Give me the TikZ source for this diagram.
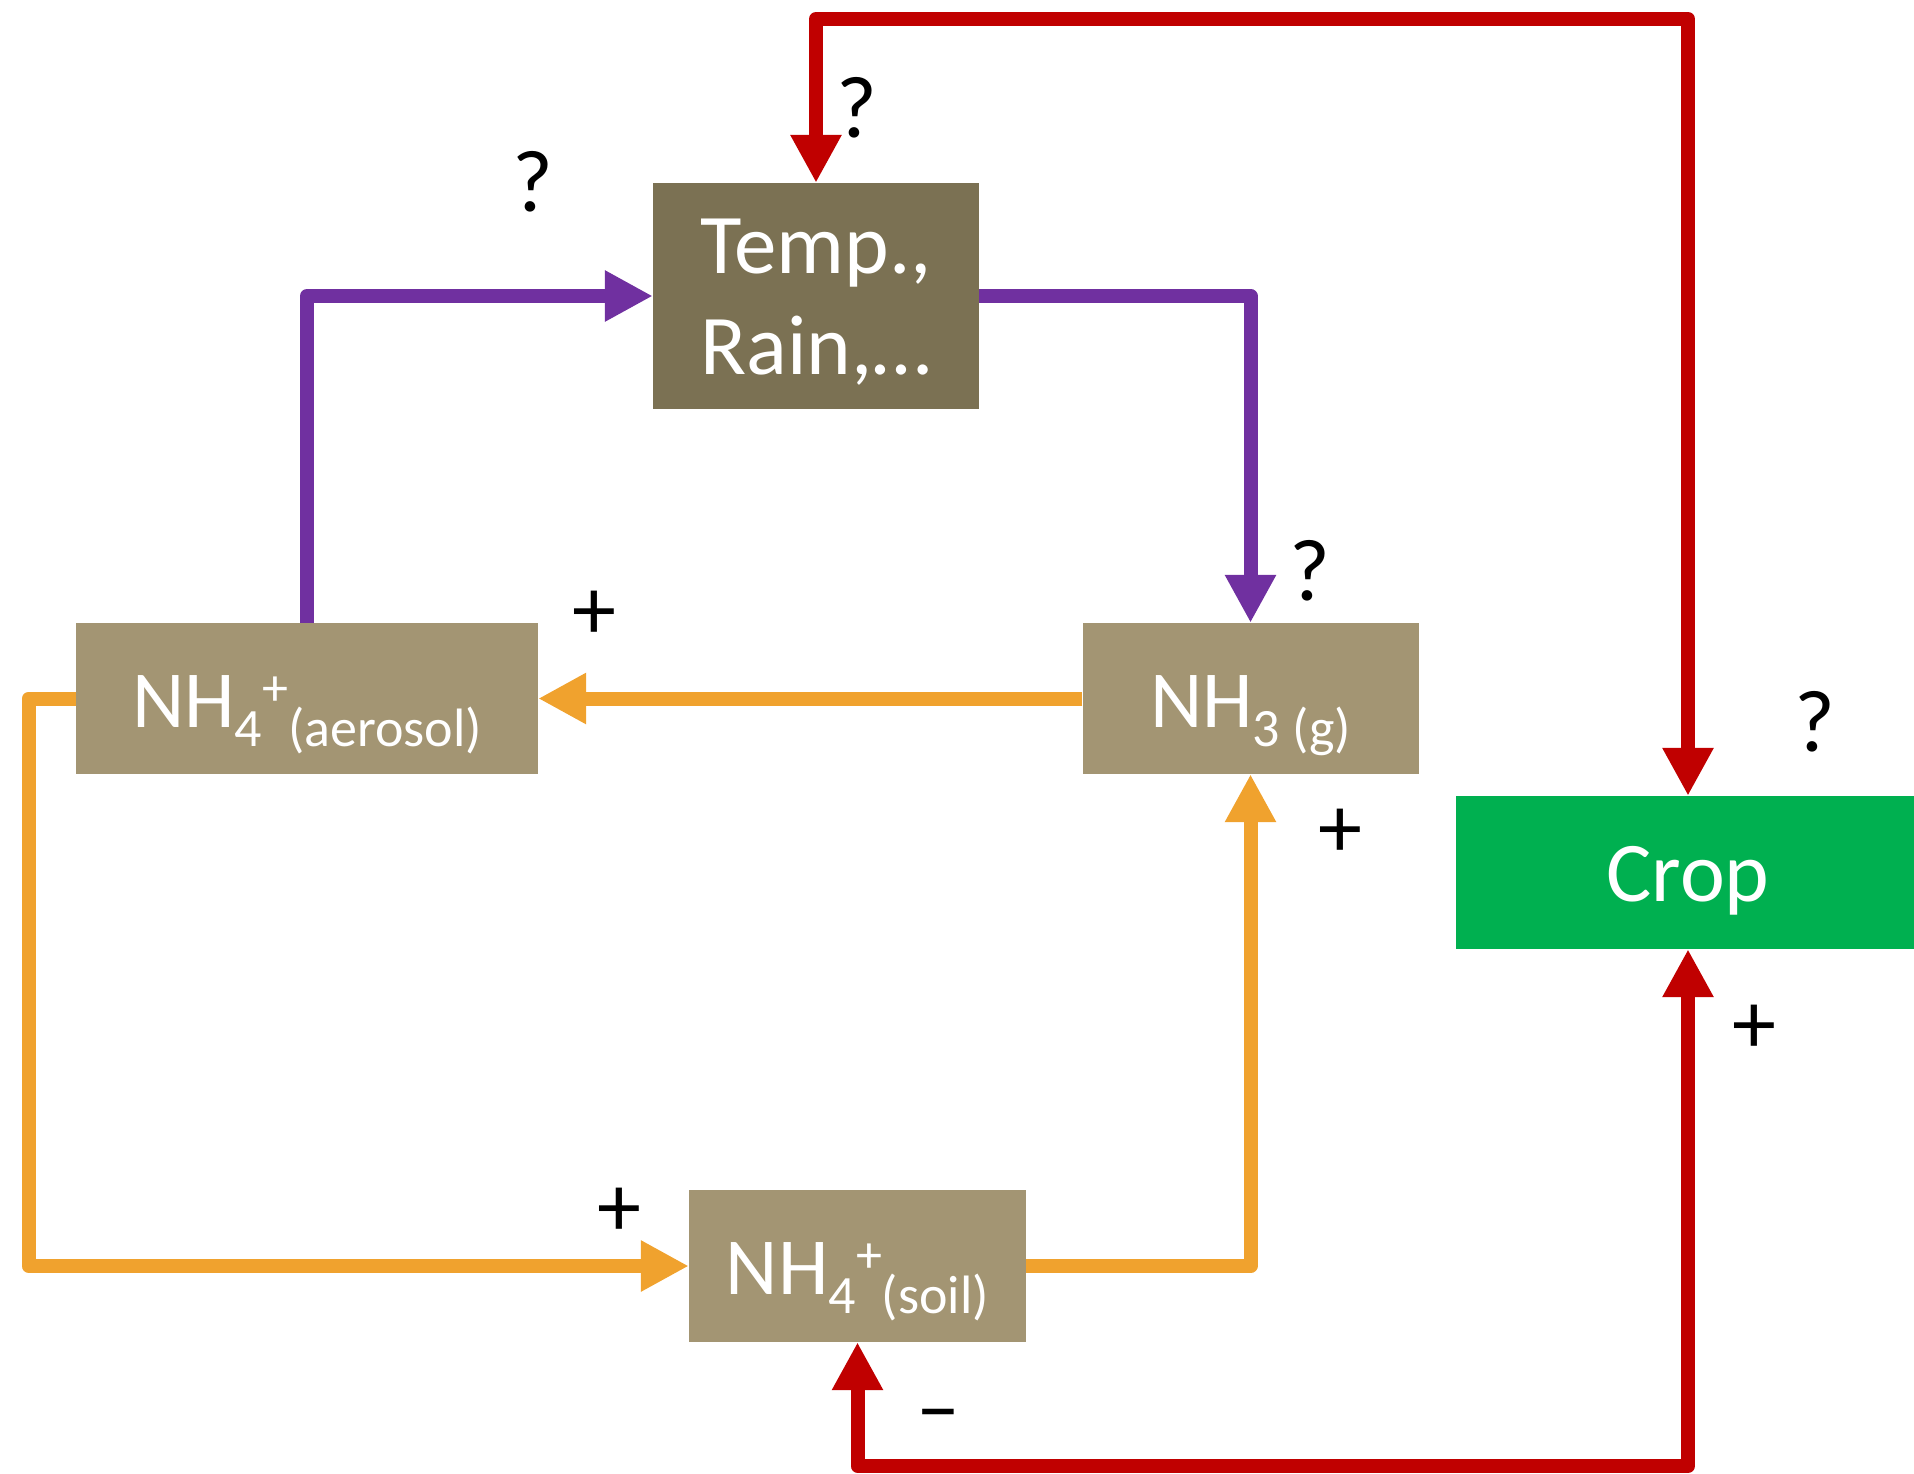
\documentclass[tikz,border=0pt]{standalone}
\usepackage{fontspec}
\setmainfont{Carlito}
\usetikzlibrary{arrows.meta}
\definecolor{tempc}{HTML}{7B7153}
\definecolor{boxc}{HTML}{A39573}
\definecolor{cropc}{HTML}{00B050}
\definecolor{redc}{HTML}{C00000}
\definecolor{orangec}{HTML}{F0A22E}
\definecolor{purplec}{HTML}{7030A0}
\newcommand\mysub[1]{\raisebox{-19pt}{\fontsize{54}{54}\selectfont #1}}
\newcommand\mysup[1]{\raisebox{22pt}{\fontsize{52}{52}\selectfont #1}}
\begin{document}
\begin{tikzpicture}[x=1pt,y=-1pt,
  box/.style={draw=none, inner sep=0pt, text=white, font=\fontsize{81}{97}\selectfont, text height=57pt, text depth=0pt},
  conn/.style={line width=14pt, line join=round, -{Triangle[length=48pt,width=48pt]}},
  both/.style={line width=14pt, line join=round, {Triangle[length=48pt,width=48pt]}-{Triangle[length=48pt,width=48pt]}},
  sign/.style={font=\fontsize{88}{88}\selectfont, inner sep=0pt, text height=56pt, text depth=0pt}]
\useasboundingbox (0,0) rectangle (1914,1473);
% boxes
\node[box, fill=tempc, minimum width=326pt, minimum height=226pt, align=center,
  font=\fontsize{85}{101}\selectfont, text height=156pt, text depth=0pt] (temp) at (816,296) {Temp.,\\Rain,…};
\node[box, fill=boxc, minimum width=462pt, minimum height=151pt] (aer) at (307,698.5) {NH\mysub{4}\mysup{+}\mysub{(aerosol)}};
\node[box, fill=boxc, minimum width=336pt, minimum height=151pt] (nh3) at (1250.5,698.5) {NH\mysub{3 (g)}};
\node[box, fill=boxc, minimum width=337pt, minimum height=152pt] (soil) at (857.5,1266) {NH\mysub{4}\mysup{+}\mysub{(soil)}};
\node[box, fill=cropc, minimum width=464pt, minimum height=153pt, font=\fontsize{85}{101}\selectfont] (crop) at (1688,872.5) {Crop};
% corner coordinates
\coordinate (topl) at (816,19);
\coordinate (botl) at (857.5,1466);
\coordinate (lc) at (28.5,1266);
% connectors
\draw[conn, purplec] (aer.north) |- (temp.west);
\draw[conn, purplec] (temp.east) -| (nh3.north);
\draw[conn, orangec] (nh3.west) -- (aer.east);
\draw[conn, orangec] (aer.west) -| (lc) -- (soil.west);
\draw[conn, orangec] (soil.east) -| (nh3.south);
\draw[both, redc] (temp.north) -- (topl) -| (crop.north);
\draw[both, redc] (soil.south) -- (botl) -| (crop.south);
% signs
\node[sign] (q1) at (533,183) {?};
\node[sign] (q2) at (857,109) {?};
\node[sign] (q3) at (1310,572) {?};
\node[sign] (q4) at (1815,723) {?};
\node[sign] (p1) at (594,611) {+};
\node[sign] (p2) at (1340,829) {+};
\node[sign] (p3) at (1754,1025) {+};
\node[sign] (p4) at (619,1208) {+};
\node[sign] (m1) at (938,1408) {–};
\end{tikzpicture}
\end{document}
